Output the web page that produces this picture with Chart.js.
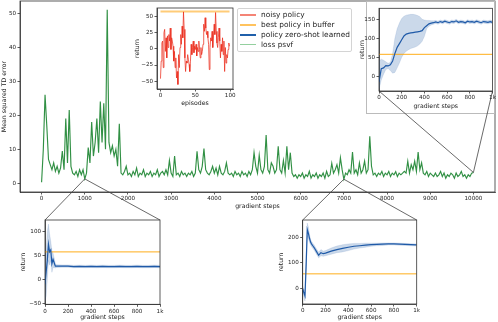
<!DOCTYPE html>
<html>
<head>
<meta charset="utf-8">
<script src="https://cdn.jsdelivr.net/npm/chart.js@4/dist/chart.umd.min.js"></script>
<style>
  html, body { margin: 0; padding: 0; background: #fff; }
  #wrap { position: relative; width: 498px; height: 322px; overflow: hidden; font-family: "DejaVu Sans", sans-serif; }
  #wrap canvas { position: absolute; }
  #legend { position: absolute; left: 237px; top: 8px; width: 113px; height: 41px; border: 1px solid #d4d4d4; border-radius: 2px;
            background: rgba(255,255,255,0.85); font-size: 7.4px; color: #222; padding-top: 1px; box-sizing: content-box; }
  #legend .row { height: 9.9px; line-height: 9.9px; white-space: nowrap; }
  #legend .sw { display: inline-block; width: 16px; height: 1.6px; margin: 0 5px 0 2px; vertical-align: middle; }
</style>
</head>
<body>
<div id="wrap">
  <canvas id="main" width="498" height="322" style="left:0;top:0"></canvas>
  <canvas id="noisy" width="110" height="106" style="left:128px;top:4px"></canvas>
  <canvas id="zs" width="142" height="108" style="left:356px;top:4px"></canvas>
  <canvas id="z1000" width="150" height="106" style="left:16px;top:216px"></canvas>
  <canvas id="z7000" width="150" height="106" style="left:274px;top:216px"></canvas>
  <div id="legend"></div>
</div>
<script>
// ---- data ----
// main: loss psvf every 40 gradient steps (0 .. 10000)
var lossPsvf = [
  0.3, 10, 26, 17, 7, 5.5, 4, 6, 3.5, 5,
  3, 4.5, 9.5, 4, 19, 6, 21.5, 5, 3, 2.5,
  3.5, 2, 4, 2.5, 4, 1.3, 3, 10.5, 6, 18,
  8, 12, 19, 9, 24, 12, 23.5, 10, 51, 12,
  9, 11, 8, 10, 5, 17.5, 3, 2.5, 3.5, 5,
  2.5, 3, 2, 3.5, 2.5, 4.5, 2, 3, 2.5, 4,
  2, 3, 2.5, 3.5, 2, 3, 2.5, 4, 2, 3,
  3.5, 2.5, 4, 2.5, 6.7, 3, 2, 8, 2.5, 3,
  2, 3.5, 2.5, 3, 2, 3, 2.5, 3.5, 2, 3,
  9.4, 4, 3, 5, 10.2, 4, 3, 2.5, 3.5, 5,
  3, 4.5, 2.5, 5, 3, 2.5, 3.5, 6, 3, 2.5,
  3, 2, 3.5, 2.5, 3, 2, 3.5, 2.5, 3, 2,
  3.5, 2.5, 4, 9, 5, 3, 8.3, 4, 3, 5,
  14.2, 4, 3, 6, 5, 3, 4, 10.9, 4, 3,
  6.7, 3, 10.9, 4, 9, 3, 2, 2.5, 1.5, 2.5,
  2, 3, 1.5, 2.5, 2, 3.5, 1.5, 2.5, 2, 3,
  1.5, 2.5, 2, 3, 1.5, 3.5, 2, 2.5, 5.9, 3,
  4, 5.5, 3, 7.5, 4, 1.2, 3, 2.5, 4, 3,
  9.2, 3, 4, 2.5, 6, 3, 4, 6.5, 3, 4,
  13.8, 5, 2.5, 3, 2, 3, 2.5, 3.5, 2, 3,
  2.5, 3.5, 2, 3, 2.5, 3.4, 2, 3, 2.5, 3,
  3.5, 3, 6.5, 3, 5.5, 4, 6.5, 3.5, 9.2, 4,
  6, 3, 2.5, 3.5, 2, 3, 2.5, 2, 3, 2,
  2.5, 3.5, 2, 3, 1.5, 2.5, 2, 3, 2.5, 1.5,
  3, 2, 2.5, 3.5, 2, 2.5, 1.5, 2.5, 2, 3,
  3.2
];
var lossStepEvery = 40;
var mainXTicks = [0, 1000, 2000, 3000, 4000, 5000, 6000, 7000, 8000, 9000, 10000];
var mainYTicks = [0, 10, 20, 30, 40, 50];

// noisy policy returns, episodes 0..99
var noisyReturn = [
  -46, -19, 9, 12, -29, 25, 30, -4, 17, -14,
  20, 2, 22, 12, 32, -1, 17, 12, 4, -19,
  -4, -29, -14, -45, -35, -55, -9, -29, 2, 22,
  7, 35, 17, 57, 30, -14, -35, -19, -22, -9,
  -16, -24, -35, -19, 7, -9, 2, 12, -6, 4,
  -1, 7, -11, 2, -4, 12, -1, -14, 2, -9,
  -4, 7, 38, 27, 48, 32, 22, 27, 17, 7,
  -32, 2, 17, 12, 27, 2, 20, 38, 22, 56,
  27, 9, 2, 17, 32, 12, -14, 7, -4, 17,
  -9, 12, -35, 2, -22, -9, -14, -1, 9, 4
];
var bestReturn = 57.7;

// zero-shot learned policy started from step 10000 (every 20 steps, 0..1000)
var zsMean = [-15, 20, 22, 28, 27, 30, 40, 60, 76, 86, 96, 106, 111, 113, 114, 115, 116, 117, 118, 120,
  128, 133, 138, 140, 141, 143, 141, 144, 142, 145, 143, 141, 144, 143, 146, 142, 144, 143, 141, 145,
  143, 144, 142, 145, 143, 141, 144, 143, 142, 144, 142];
var zsHi = [40, 45, 42, 38, 34, 36, 60, 100, 125, 140, 152, 158, 161, 162, 163, 163, 162, 160, 157, 150,
  148, 147, 147, 146, 146, 147, 145, 148, 146, 149, 147, 145, 148, 147, 150, 146, 148, 147, 145, 149,
  147, 148, 146, 149, 147, 145, 148, 147, 146, 148, 146];
var zsLo = [-35, -10, 5, 18, 20, 15, 8, 10, 22, 35, 50, 60, 66, 70, 73, 75, 77, 80, 85, 92,
  105, 125, 132, 135, 137, 139, 137, 140, 138, 141, 139, 137, 140, 139, 142, 138, 140, 139, 137, 141,
  139, 140, 138, 141, 139, 137, 140, 139, 138, 140, 138];
var zsStepEvery = 20;

// zero-shot learned policy started from step 1000
var z1000Steps = [0, 10, 20, 30, 40, 50, 60, 70, 80, 90, 100, 150, 200, 250, 300, 350, 400, 450, 500,
  550, 600, 650, 700, 750, 800, 850, 900, 950, 1000];
var z1000Mean = [-10, 15, 40, 74, 58, 62, 33, 42, 35, 28, 28, 28, 28, 27, 27.5, 27, 27.5, 27, 27.5,
  27, 27, 27.5, 27, 27, 27.5, 27, 27, 27.5, 27];
var z1000Hi = [20, 60, 100, 116, 95, 80, 60, 55, 45, 33, 31, 30.5, 30.5, 29.5, 30, 29.5, 30, 29.5, 30,
  29.5, 29.5, 30, 29.5, 29.5, 30, 29.5, 29.5, 30, 29.5];
var z1000Lo = [-45, -35, 0, 40, 30, 40, 15, 25, 25, 24, 25, 25.5, 25.5, 24.5, 25, 24.5, 25, 24.5, 25,
  24.5, 24.5, 25, 24.5, 24.5, 25, 24.5, 24.5, 25, 24.5];

// zero-shot learned policy started from step 7000
var z7000Steps = [0, 10, 20, 30, 40, 50, 60, 70, 80, 90, 100, 120, 140, 160, 180, 200, 250, 300, 350,
  400, 450, 500, 550, 600, 650, 700, 750, 800, 850, 900, 950, 1000];
var z7000Mean = [0, -15, -28, 90, 230, 215, 195, 180, 172, 166, 160, 145, 130, 140, 136, 138, 146, 152, 157,
  161, 165, 167, 169, 171, 172, 173, 174, 174, 173, 172, 171, 170];
var z7000Hi = [10, -5, -5, 120, 255, 240, 210, 190, 182, 176, 170, 155, 142, 152, 146, 148, 158, 166, 171,
  174, 176, 176, 177, 177, 177, 178, 178, 178, 177, 176, 175, 174];
var z7000Lo = [-10, -30, -48, 60, 205, 195, 180, 170, 162, 156, 150, 135, 120, 128, 126, 128, 134, 140, 143,
  148, 154, 158, 161, 165, 167, 168, 170, 170, 169, 168, 167, 166];

var zoomXTicks = [0, 200, 400, 600, 800, 1000];
var zoomXLabels = ['0', '200', '400', '600', '800', '1k'];
var zoomAt = [1000, 7000, 10000];

var legendLabels = ['noisy policy', 'best policy in buffer', 'policy zero-shot learned', 'loss psvf'];

// ---- styling ----
Chart.defaults.font.family = "'DejaVu Sans', sans-serif";
Chart.defaults.color = '#222';
var tickFont = { size: 5.6 };
var labelFont = { size: 6.2 };
var green = 'rgba(32,135,52,0.92)';
var red = 'rgba(235,45,30,0.75)';
var orange = 'rgba(255,165,0,0.9)';
var blue = '#1f5aa8';
var band = 'rgba(70,120,180,0.28)';
var legendColors = ['rgba(240,80,60,0.7)', 'rgba(255,175,40,0.75)', '#2060aa', 'rgba(60,170,80,0.55)'];

function pts(xs, ys) {
  return ys.map(function (y, i) { return { x: xs[i], y: y }; });
}
function everySteps(arr, every) {
  return arr.map(function (v, i) { return i * every; });
}

function axis(o) {
  return {
    type: 'linear',
    position: o.position,
    min: o.min,
    max: o.max,
    afterBuildTicks: function (s) {
      s.ticks = o.ticks.map(function (v) { return { value: v }; });
    },
    afterFit: function (s) {
      if (o.position === 'left') s.width = o.size; else s.height = o.size;
      s.paddingTop = 0; s.paddingBottom = 0; s.paddingLeft = 0; s.paddingRight = 0;
    },
    ticks: {
      font: tickFont, padding: o.tickPad, maxRotation: 0, autoSkip: false, color: '#222',
      callback: function (v, i) {
        if (o.labels) return o.labels[i];
        return v < 0 ? '\u2212' + Math.abs(v) : String(v);
      }
    },
    grid: { drawOnChartArea: false, tickLength: 2.5, color: '#333', lineWidth: 0.8 },
    border: { display: true, color: '#333', width: 0.8 },
    title: { display: true, text: o.title, font: labelFont, color: '#222', padding: o.titlePad }
  };
}

var framePlugin = {
  id: 'frame',
  beforeDraw: function (chart, args, opts) {
    if (!opts.fill) return;
    var a = chart.chartArea, ctx = chart.ctx;
    ctx.save();
    ctx.fillStyle = '#fff';
    ctx.fillRect(a.left, a.top, a.right - a.left, a.bottom - a.top);
    ctx.restore();
  },
  afterDraw: function (chart) {
    var a = chart.chartArea, ctx = chart.ctx;
    ctx.save();
    ctx.strokeStyle = '#333';
    ctx.lineWidth = 0.8;
    ctx.strokeRect(a.left, a.top, a.right - a.left, a.bottom - a.top);
    ctx.restore();
  }
};

function baseOptions(pad, x, y) {
  return {
    responsive: false,
    animation: false,
    devicePixelRatio: 1,
    layout: { padding: pad },
    elements: { point: { radius: 0 }, line: { tension: 0 } },
    plugins: { legend: { display: false }, tooltip: { enabled: false }, frame: { fill: true } },
    scales: { x: x, y: y }
  };
}

function zoomChart(id, steps, mean, hi, lo, pad, ySize, xSize, yMin, yMax, yTicks, yTitlePad, xTitlePad) {
  return new Chart(document.getElementById(id), {
    type: 'line',
    data: {
      datasets: [
        { data: pts(steps, lo), borderWidth: 0.5, borderColor: band, fill: false, order: 3 },
        { data: pts(steps, hi), borderWidth: 0.5, borderColor: band, backgroundColor: band, fill: '-1', order: 2 },
        { data: [{ x: 0, y: bestReturn }, { x: 1000, y: bestReturn }], borderColor: orange, borderWidth: 1, order: 1 },
        { data: pts(steps, mean), borderColor: blue, borderWidth: 1.2, order: 0 }
      ]
    },
    options: baseOptions(pad,
      axis({ position: 'bottom', min: 0, max: 1000, ticks: zoomXTicks, labels: zoomXLabels, size: xSize,
             tickPad: 1, title: 'gradient steps', titlePad: { top: 0, bottom: xTitlePad } }),
      axis({ position: 'left', min: yMin, max: yMax, ticks: yTicks, size: ySize,
             tickPad: 1.5, title: 'return', titlePad: { top: yTitlePad, bottom: 0 } })),
    plugins: [framePlugin]
  });
}

// ---- inset: noisy policy ----
var episodes = everySteps(noisyReturn, 1);
var noisyChart = new Chart(document.getElementById('noisy'), {
  type: 'line',
  data: {
    datasets: [
      { data: [{ x: 0, y: bestReturn }, { x: 99, y: bestReturn }], borderColor: 'rgba(255,170,30,0.6)', borderWidth: 2, order: 1 },
      { data: pts(episodes, noisyReturn), borderColor: red, borderWidth: 1, order: 0 }
    ]
  },
  options: baseOptions({ left: 0, top: 4, right: 5, bottom: 0 },
    axis({ position: 'bottom', min: -5, max: 104, ticks: [0, 50, 100], size: 21, tickPad: 1,
           title: 'episodes', titlePad: { top: 0, bottom: 3 } }),
    axis({ position: 'left', min: -62, max: 63, ticks: [-50, -25, 0, 25, 50], size: 29, tickPad: 1.5,
           title: 'return', titlePad: { top: 5.3, bottom: 0 } })),
  plugins: [framePlugin]
});

// ---- zoom insets ----
var zsChart = zoomChart('zs', everySteps(zsMean, zsStepEvery), zsMean, zsHi, zsLo,
  { left: 0, top: 4.3, right: 5.5, bottom: 0 }, 23, 21, -39, 179, [0, 50, 100, 150], 2.3, 1.6);
var z1000Chart = zoomChart('z1000', z1000Steps, z1000Mean, z1000Hi, z1000Lo,
  { left: 0, top: 4, right: 6, bottom: 0 }, 29, 17.7, -52, 124.5, [-50, 0, 50, 100], 3.3, 0.6);
var z7000Chart = zoomChart('z7000', z7000Steps, z7000Mean, z7000Hi, z7000Lo,
  { left: 0, top: 4, right: 7.3, bottom: 0 }, 28.7, 18, -59.5, 267, [0, 100, 200], 4, 0.6);

var zoomInsets = [
  { step: zoomAt[0], chart: z1000Chart, side: 'top' },
  { step: zoomAt[1], chart: z7000Chart, side: 'top' },
  { step: zoomAt[2], chart: zsChart, side: 'bottom' }
];

// lines from the point in the loss curve to the inset corners,
// plus the light frame around the top right inset
var zoomLinks = {
  id: 'zoomLinks',
  afterDraw: function (chart) {
    var ctx = chart.ctx, xs = chart.scales.x, ys = chart.scales.y;
    ctx.save();
    var c = zsChart.canvas;
    ctx.strokeStyle = '#bbb';
    ctx.lineWidth = 1;
    ctx.strokeRect(c.offsetLeft + 10.5, chart.chartArea.top + 0.5, chart.chartArea.right - c.offsetLeft - 11, c.offsetTop + c.height - chart.chartArea.top + 1);
    ctx.strokeStyle = '#444';
    ctx.lineWidth = 0.8;
    zoomInsets.forEach(function (z) {
      var px = xs.getPixelForValue(z.step);
      var py = ys.getPixelForValue(lossPsvf[z.step / lossStepEvery]);
      var a = z.chart.chartArea, ox = z.chart.canvas.offsetLeft, oy = z.chart.canvas.offsetTop;
      var cy = oy + (z.side === 'top' ? a.top : a.bottom);
      [a.left, a.right].forEach(function (cx) {
        ctx.beginPath();
        ctx.moveTo(px, py);
        ctx.lineTo(ox + cx, cy);
        ctx.stroke();
      });
    });
    ctx.restore();
  }
};

// ---- main chart ----
var mainOpts = baseOptions({ left: 0, top: 1, right: 3, bottom: 112 },
  axis({ position: 'bottom', min: -500, max: 10500, ticks: mainXTicks, size: 18, tickPad: 0.5,
         title: 'gradient steps', titlePad: { top: 0, bottom: 0 } }),
  axis({ position: 'left', min: -2.55, max: 53.55, ticks: mainYTicks, size: 20, tickPad: 1.5,
         title: 'Mean squared TD error', titlePad: { top: 0.3, bottom: 0 } }));
mainOpts.plugins.frame.fill = false;
var mainChart = new Chart(document.getElementById('main'), {
  type: 'line',
  data: {
    datasets: [
      { label: legendLabels[3], data: pts(everySteps(lossPsvf, lossStepEvery), lossPsvf), borderColor: green, borderWidth: 1.15 }
    ]
  },
  options: mainOpts,
  plugins: [framePlugin, zoomLinks]
});

// ---- legend ----
var legend = document.getElementById('legend');
legendLabels.forEach(function (t, i) {
  var row = document.createElement('div');
  row.className = 'row';
  var sw = document.createElement('span');
  sw.className = 'sw';
  sw.style.background = legendColors[i];
  row.appendChild(sw);
  row.appendChild(document.createTextNode(t));
  legend.appendChild(row);
});
</script>
</body>
</html>
